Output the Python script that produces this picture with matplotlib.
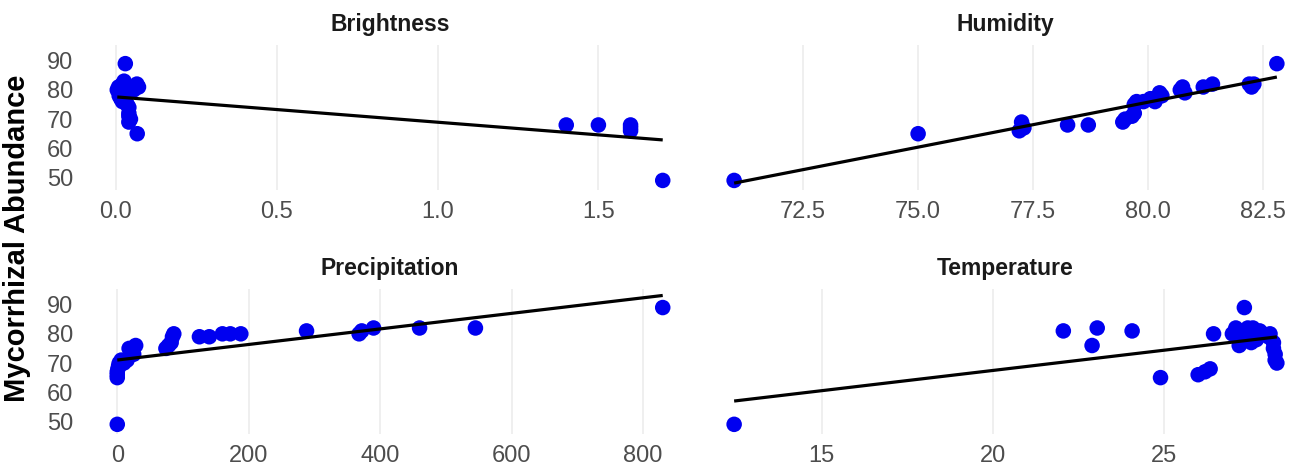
import numpy as np
import matplotlib
matplotlib.use("Agg")
import matplotlib.pyplot as plt

# ---------------- data ----------------
brightness_x = [0.004, 0.008, 0.012, 0.020, 0.025, 0.030, 0.015, 0.020, 0.035, 0.040,
                0.040, 0.040, 0.045, 0.040, 0.029, 0.065, 0.070, 0.055, 0.066, 0.030,
                0.010, 1.4, 1.5, 1.6, 1.6, 1.6, 1.7]
brightness_y = [80, 81, 79, 82, 83, 80, 77, 76, 75, 74,
                72, 71, 70, 69, 89, 82, 81, 80, 65, 78,
                78, 68, 68, 68, 67, 66, 49]

humidity_x = [71.0, 75.0, 77.25, 77.3, 77.2, 78.25, 78.7, 79.45, 79.5, 79.65,
              79.7, 79.7, 79.75, 79.9, 80.05, 80.15, 80.25, 80.3, 80.7, 80.75,
              80.8, 81.2, 81.4, 82.2, 82.25, 82.3, 82.8]
humidity_y = [49, 65, 69, 67, 66, 68, 68, 69, 70, 71,
              72, 75, 76, 76, 77, 76, 79, 78, 80, 81,
              79, 81, 82, 82, 81, 82, 89]

precip_x = [0, 0, 0, 0, 1, 2, 3, 6, 10, 15,
            18, 28, 25, 74, 78, 84, 86, 82, 125, 140,
            160, 172, 188, 288, 368, 372, 390, 460, 545, 830]
precip_y = [49, 65, 66, 67, 68, 69, 70, 71, 70, 71,
            75, 76, 73, 75, 76, 79, 80, 77, 79, 79,
            80, 80, 80, 81, 80, 81, 82, 82, 82, 89]

temp_x = [12.44, 22.06, 23.05, 22.9, 24.07, 24.9, 26.0, 26.2, 26.35, 26.45,
          27.35, 27.0, 27.1, 27.3, 27.45, 27.6, 27.8, 27.9, 28.05, 28.1,
          27.2, 27.55, 27.35, 27.7, 28.2, 28.2, 28.25, 28.3, 28.25]
temp_y = [49, 81, 82, 76, 81, 65, 66, 67, 68, 80,
          89, 80, 82, 81, 82, 82, 81, 80, 79, 80,
          76, 77, 79, 78, 77, 75, 73, 70, 71]

panel_titles = ["Brightness", "Humidity", "Precipitation", "Temperature"]
x_ticks = [[0.0, 0.5, 1.0, 1.5],
           [72.5, 75.0, 77.5, 80.0, 82.5],
           [0, 200, 400, 600, 800],
           [15, 20, 25]]
x_ticklabels = [["0.0", "0.5", "1.0", "1.5"],
                ["72.5", "75.0", "77.5", "80.0", "82.5"],
                ["0", "200", "400", "600", "800"],
                ["15", "20", "25"]]
y_ticks = [50, 60, 70, 80, 90]
y_label = "Mycorrhizal Abundance"

series = [(brightness_x, brightness_y), (humidity_x, humidity_y),
          (precip_x, precip_y), (temp_x, temp_y)]

# ---------------- figure ----------------
plt.rcParams['font.family'] = ['Liberation Sans', 'DejaVu Sans']
W, H = 1304, 476
fig = plt.figure(figsize=(W / 100, H / 100), dpi=100)

left_l, left_r = 90 / W, 600 / W
right_l, right_w = 707 / W, 597 / W
ax_h = 0.304
top_b, bot_b = 0.6015, 0.0891
positions = [[left_l, top_b, left_r, ax_h],
             [right_l, top_b, right_w, ax_h],
             [left_l, bot_b, left_r, ax_h],
             [right_l, bot_b, right_w, ax_h]]

axes = []
for i, pos in enumerate(positions):
    if i == 0:
        ax = fig.add_axes(pos)
    else:
        ax = fig.add_axes(pos, sharey=axes[0])
    axes.append(ax)

tick_color = "#4D4D4D"
grid_color = "#EBEBEB"

for i, ax in enumerate(axes):
    xs = np.asarray(series[i][0], dtype=float)
    ys = np.asarray(series[i][1], dtype=float)
    ax.scatter(xs, ys, s=125, color="#0000F0", edgecolors="none", zorder=3)
    slope, intercept = np.polyfit(xs, ys, 1)
    xl = np.array([xs.min(), xs.max()])
    ax.plot(xl, intercept + slope * xl, color="black", lw=2.3, zorder=4,
            solid_capstyle="butt")
    ax.margins(x=0.05, y=0.05)
    ax.set_xticks(x_ticks[i])
    ax.set_xticklabels(x_ticklabels[i])
    ax.set_yticks(y_ticks)
    ax.grid(axis="x", color=grid_color, lw=1.1, zorder=0)
    ax.grid(axis="y", visible=False)
    ax.set_axisbelow(True)
    for sp in ax.spines.values():
        sp.set_visible(False)
    ax.tick_params(axis="both", length=0, labelsize=17, labelcolor=tick_color)
    ax.tick_params(axis="x", pad=8)
    ax.tick_params(axis="y", pad=12)
    if i in (1, 3):
        ax.tick_params(axis="y", labelleft=False)
    ax.set_title(panel_titles[i], fontsize=16.5, fontweight="bold",
                 color="#1A1A1A", pad=10)

fig.text(0.013, 0.5, y_label, rotation=90, ha="center", va="center",
         fontsize=21, fontweight="bold", color="black")

fig.savefig("out.png", dpi=100, facecolor="white")
